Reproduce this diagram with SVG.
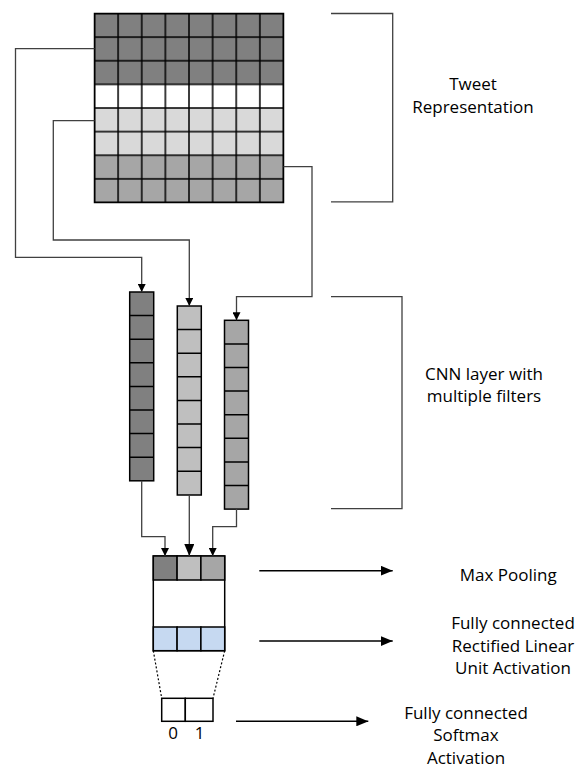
<svg xmlns="http://www.w3.org/2000/svg" width="579" height="769" viewBox="0 0 579 769">
<style>
.cell{stroke:#000;stroke-width:1.5}
.d{fill:#808080}.w{fill:#fff}.l{fill:#d9d9d9}.m{fill:#a6a6a6}.c{fill:#bfbfbf}.b{fill:#c6d9f1}
.conn{fill:none;stroke:#404040;stroke-width:1.3}
.br{fill:none;stroke:#404040;stroke-width:1.3}
.dot{stroke:#000;stroke-width:1.2;stroke-dasharray:2 2}
text{font-family:"Open Sans","Liberation Sans",sans-serif;font-size:17px;fill:#000;text-anchor:middle}
</style>
<defs>
<marker id="ah" markerWidth="8" markerHeight="8" refX="8" refY="4" orient="auto" markerUnits="userSpaceOnUse">
<path d="M0,0 L8,4 L0,8 Z" fill="#000"/>
</marker>
<marker id="ahl" markerWidth="12" markerHeight="10" refX="12" refY="5" orient="auto" markerUnits="userSpaceOnUse">
<path d="M0,0 L12,5 L0,10 Z" fill="#000"/>
</marker>
<pattern id="gridp" x="94.5" y="13.5" width="23.625" height="23.625" patternUnits="userSpaceOnUse">
<rect width="23.625" height="23.625" fill="none" stroke="#000" stroke-width="1.5"/>
</pattern>
</defs>

<g id="tweet-representation">
<rect x="94.5" y="13.5" width="189" height="70.9" class="d"/>
<rect x="94.5" y="84.4" width="189" height="23.6" class="w"/>
<rect x="94.5" y="108" width="189" height="47.3" class="l"/>
<rect x="94.5" y="155.3" width="189" height="47.2" class="m"/>
<rect x="94.5" y="13.5" width="189" height="189" fill="url(#gridp)"/>
<rect x="94.5" y="13.5" width="189" height="189" fill="none" stroke="#000" stroke-width="1.5"/>
</g>

<g id="filter1">
<rect x="129.7" y="292" width="24" height="188.8" class="d" stroke="#000" stroke-width="1.5"/>
<path d="M129.7,315.6h24M129.7,339.2h24M129.7,362.8h24M129.7,386.4h24M129.7,410h24M129.7,433.6h24M129.7,457.2h24" stroke="#000" stroke-width="1.5"/>
</g>
<g id="filter2">
<rect x="177.3" y="306" width="24" height="189" class="c" stroke="#000" stroke-width="1.5"/>
<path d="M177.3,329.6h24M177.3,353.2h24M177.3,376.8h24M177.3,400.4h24M177.3,424h24M177.3,447.6h24M177.3,471.2h24" stroke="#000" stroke-width="1.5"/>
</g>
<g id="filter3">
<rect x="224.5" y="320.3" width="24" height="188.8" class="m" stroke="#000" stroke-width="1.5"/>
<path d="M224.5,343.9h24M224.5,367.5h24M224.5,391.1h24M224.5,414.7h24M224.5,438.3h24M224.5,461.9h24M224.5,485.5h24" stroke="#000" stroke-width="1.5"/>
</g>

<g id="pooling">
<rect x="153.3" y="556" width="71.4" height="94.7" fill="#fff" stroke="#000" stroke-width="1.5"/>
<rect x="153.3" y="556" width="23.8" height="24" class="d cell"/>
<rect x="177.1" y="556" width="23.8" height="24" class="c cell"/>
<rect x="200.9" y="556" width="23.8" height="24" class="m cell"/>
<rect x="153.3" y="627" width="23.8" height="23.7" class="b cell"/>
<rect x="177.1" y="627" width="23.8" height="23.7" class="b cell"/>
<rect x="200.9" y="627" width="23.8" height="23.7" class="b cell"/>
</g>

<g id="softmax">
<rect x="161.7" y="698.3" width="23.6" height="23" fill="#fff" class="cell"/>
<rect x="185.3" y="698.3" width="27.7" height="23" fill="#fff" class="cell"/>
<text x="173" y="738.5">0</text>
<text x="199.5" y="738.5">1</text>
</g>

<g id="connectors">
<path class="conn" d="M94.5,48.7 H15.5 V257.3 H141.7 V292" marker-end="url(#ah)"/>
<path class="conn" d="M94.5,120.7 H53.3 V240 H189.3 V306" marker-end="url(#ah)"/>
<path class="conn" d="M283.5,166.7 H312 V296.7 H236.5 V320.3" marker-end="url(#ah)"/>
<path class="conn" d="M141.7,480.8 V536.7 H165 V556" marker-end="url(#ah)"/>
<path class="conn" d="M189.3,495 V556" marker-end="url(#ahl)"/>
<path class="conn" d="M236.5,509.1 V526.7 H212.7 V556" marker-end="url(#ah)"/>
<line class="dot" x1="153.3" y1="650.7" x2="161.7" y2="698.3"/>
<line class="dot" x1="224.7" y1="650.7" x2="213" y2="698.3"/>
<line x1="259.3" y1="570.7" x2="392.7" y2="570.7" stroke="#000" stroke-width="1.5" marker-end="url(#ahl)"/>
<line x1="259.3" y1="641" x2="392.7" y2="641" stroke="#000" stroke-width="1.5" marker-end="url(#ahl)"/>
<line x1="236" y1="721.3" x2="368.3" y2="721.3" stroke="#000" stroke-width="1.5" marker-end="url(#ahl)"/>
</g>

<g id="bracket-tweet">
<path class="br" d="M331,13.5 H392.7 V201.8 H331"/>
<text x="473" y="90">Tweet</text>
<text x="473" y="112.7">Representation</text>
</g>
<g id="bracket-cnn">
<path class="br" d="M331,296.7 H402 V508.7 H331"/>
<text x="484" y="380">CNN layer with</text>
<text x="484" y="402">multiple filters</text>
</g>
<g id="label-maxpool">
<text x="508.3" y="580.7">Max Pooling</text>
</g>
<g id="label-relu">
<text x="513" y="629.3">Fully connected</text>
<text x="513" y="651.5">Rectified Linear</text>
<text x="513" y="673.5">Unit Activation</text>
</g>
<g id="label-softmax">
<text x="466" y="718.7">Fully connected</text>
<text x="466" y="741">Softmax</text>
<text x="466" y="764">Activation</text>
</g>
</svg>
